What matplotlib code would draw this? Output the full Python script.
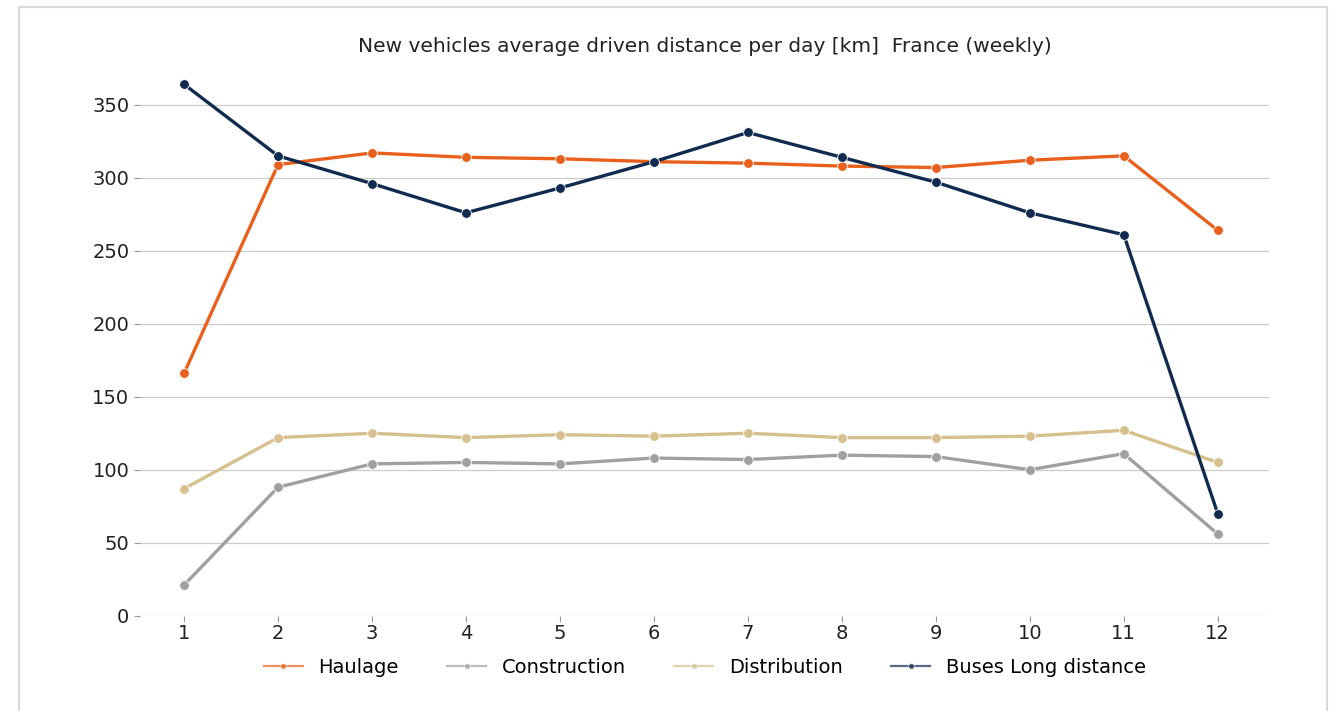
import numpy as np
import matplotlib.pyplot as plt
from matplotlib.patches import FancyBboxPatch

# Data
weeks = list(range(1, 13))
haulage = [166, 309, 317, 314, 313, 311, 310, 308, 307, 312, 315, 264]
construction = [21, 88, 104, 105, 104, 108, 107, 110, 109, 100, 111, 56]
distribution = [87, 122, 125, 122, 124, 123, 125, 122, 122, 123, 127, 105]
buses = [364, 315, 296, 276, 293, 311, 331, 314, 297, 276, 261, 70]

series = [
    ("Haulage", haulage, "#e8601c"),
    ("Construction", construction, "#a0a0a0"),
    ("Distribution", distribution, "#d6c08e"),
    ("Buses Long distance", buses, "#112a4f"),
]

fig = plt.figure(figsize=(13.32, 7.11), dpi=100)

# card with faint border, like the screenshot
card = FancyBboxPatch((0.014, -0.02), 0.982, 1.01, boxstyle="square,pad=0",
                      transform=fig.transFigure, facecolor="white",
                      edgecolor="#d9d9d9", linewidth=1.5, zorder=-10)
fig.patches.append(card)

ax = fig.add_axes([0.105, 0.134, 0.848, 0.77])
ax.set_facecolor("none")

for name, vals, col in series:
    ax.plot(weeks, vals, color=col, lw=2.4, marker="o", markersize=7,
            markeredgecolor="white", markeredgewidth=0.6, label=name)

ax.set_xlim(0.53, 12.55)
ax.set_ylim(0.5, 375)
ax.set_xticks(weeks)
ax.set_yticks(np.arange(0, 351, 50))
ax.grid(axis="y", color="#cccccc", lw=0.9)
ax.set_axisbelow(True)
for s in ax.spines.values():
    s.set_visible(False)
ax.tick_params(axis="both", labelsize=14, colors="#222222", length=4, width=0.8)
ax.tick_params(axis="both", color="#999999")
ax.tick_params(axis="x", pad=2)

ax.set_title("New vehicles average driven distance per day [km]  France (weekly)",
             fontsize=14.5, color="#222222", pad=12)

leg = ax.legend(loc="upper center", bbox_to_anchor=(0.5, -0.045), ncol=4,
                frameon=False, fontsize=14, handlelength=2.0, columnspacing=2.5,
                markerscale=0.6)
for h in leg.get_lines():
    h.set_alpha(0.7)
    h.set_linewidth(1.6)

fig.savefig("out.png", dpi=100)
